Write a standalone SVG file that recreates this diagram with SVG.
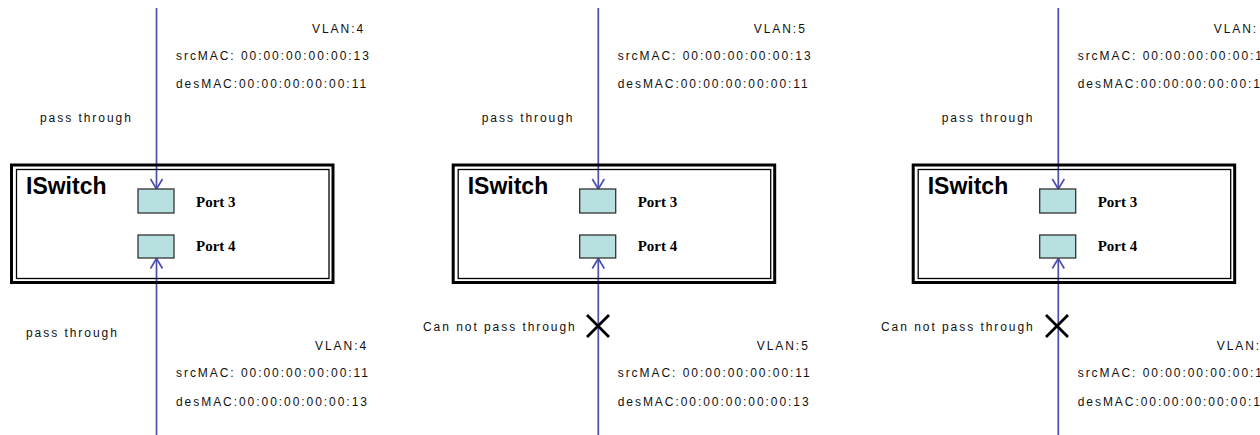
<svg xmlns="http://www.w3.org/2000/svg" width="1260" height="435" viewBox="0 0 1260 435">
<style>
.t{font-family:"Liberation Sans",Arial,sans-serif;font-size:12px;letter-spacing:1.95px;fill:#111}
.title{font-family:"Liberation Sans",Arial,sans-serif;font-size:23px;font-weight:bold;fill:#000}
.pl{font-family:"Liberation Serif","Times New Roman",serif;font-size:15px;font-weight:bold;fill:#000}
.outer{fill:none;stroke:#000;stroke-width:3}
.inner{fill:none;stroke:#000;stroke-width:1.3}
.port{fill:#b9e0e1;stroke:#333;stroke-width:1.3}
.wire{stroke:#4d4db0;stroke-width:1.7;fill:none}
.xm{stroke:#000;stroke-width:2.8;fill:none}
</style>
<defs>
<marker id="ah" markerUnits="userSpaceOnUse" viewBox="0 0 12 14" refX="11" refY="7" markerWidth="12" markerHeight="14" orient="auto">
<path d="M1,1 L11,7 L1,13" fill="none" stroke="#4d4db0" stroke-width="1.7"/>
</marker>
<g id="sw">
<rect class="outer" x="11.5" y="165" width="321.5" height="117.5"/>
<rect class="inner" x="16.5" y="169.5" width="312.5" height="109"/>
<text class="title" x="26" y="194">ISwitch</text>
</g>
</defs>

<g id="connectors">
<line class="wire" x1="156.5" y1="8" x2="156.5" y2="189" marker-end="url(#ah)"/>
<line class="wire" x1="156.5" y1="435" x2="156.5" y2="258.5" marker-end="url(#ah)"/>
<line class="wire" x1="598.3" y1="8" x2="598.3" y2="189" marker-end="url(#ah)"/>
<line class="wire" x1="598.3" y1="435" x2="598.3" y2="258.5" marker-end="url(#ah)"/>
<line class="wire" x1="1058.3" y1="8" x2="1058.3" y2="189" marker-end="url(#ah)"/>
<line class="wire" x1="1058.3" y1="435" x2="1058.3" y2="258.5" marker-end="url(#ah)"/>
</g>

<g id="switch1">
<use href="#sw"/>
<rect class="port" x="138" y="189" width="36" height="24"/>
<rect class="port" x="138" y="235" width="36" height="23"/>
<text class="pl" x="196" y="206.5">Port 3</text>
<text class="pl" x="196" y="251">Port 4</text>
</g>
<g id="switch2" transform="translate(441.7,0)">
<use href="#sw"/>
<rect class="port" x="138" y="189" width="36" height="24"/>
<rect class="port" x="138" y="235" width="36" height="23"/>
<text class="pl" x="196" y="206.5">Port 3</text>
<text class="pl" x="196" y="251">Port 4</text>
</g>
<g id="switch3" transform="translate(901.7,0)">
<use href="#sw"/>
<rect class="port" x="138" y="189" width="36" height="24"/>
<rect class="port" x="138" y="235" width="36" height="23"/>
<text class="pl" x="196" y="206.5">Port 3</text>
<text class="pl" x="196" y="251">Port 4</text>
</g>

<g id="labels1">
<text class="t" x="312" y="33">VLAN:4</text>
<text class="t" x="176" y="60">srcMAC: 00:00:00:00:00:13</text>
<text class="t" x="176" y="88">desMAC:00:00:00:00:00:11</text>
<text class="t" x="40" y="122">pass through</text>
<text class="t" x="26" y="337">pass through</text>
<text class="t" x="315" y="350">VLAN:4</text>
<text class="t" x="176" y="377">srcMAC: 00:00:00:00:00:11</text>
<text class="t" x="176" y="406">desMAC:00:00:00:00:00:13</text>
</g>
<g id="labels2" transform="translate(441.7,0)">
<text class="t" x="312" y="33">VLAN:5</text>
<text class="t" x="176" y="60">srcMAC: 00:00:00:00:00:13</text>
<text class="t" x="176" y="88">desMAC:00:00:00:00:00:11</text>
<text class="t" x="40" y="122">pass through</text>
<text class="t" x="315" y="350">VLAN:5</text>
<text class="t" x="176" y="377">srcMAC: 00:00:00:00:00:11</text>
<text class="t" x="176" y="406">desMAC:00:00:00:00:00:13</text>
</g>
<g id="labels3" transform="translate(901.7,0)">
<text class="t" x="312" y="33">VLAN:</text>
<text class="t" x="176" y="60">srcMAC: 00:00:00:00:00:1</text>
<text class="t" x="176" y="88">desMAC:00:00:00:00:00:1</text>
<text class="t" x="40" y="122">pass through</text>
<text class="t" x="315" y="350">VLAN:</text>
<text class="t" x="176" y="377">srcMAC: 00:00:00:00:00:1</text>
<text class="t" x="176" y="406">desMAC:00:00:00:00:00:1</text>
</g>

<g id="block2">
<text class="t" x="423" y="331">Can not pass through</text>
<path class="xm" d="M587,315 L609,337 M609,315 L587,337"/>
</g>
<g id="block3">
<text class="t" x="881" y="331">Can not pass through</text>
<path class="xm" d="M1046,315 L1068,337 M1068,315 L1046,337"/>
</g>
</svg>
